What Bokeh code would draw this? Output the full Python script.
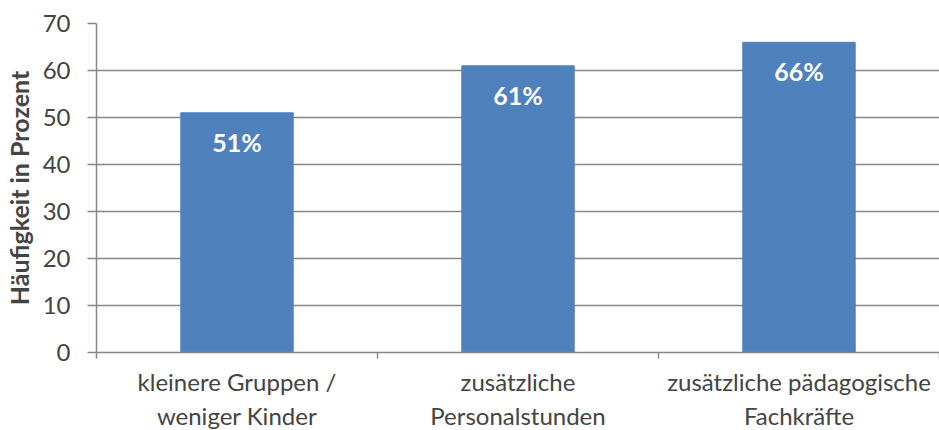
from bokeh.plotting import figure
from bokeh.models import Range1d, FixedTicker, ColumnDataSource
from bokeh.core.properties import value
from bokeh.embed import file_html
from bokeh.resources import INLINE

categories = ["kleinere Gruppen /\nweniger Kinder",
              "zusätzliche\nPersonalstunden",
              "zusätzliche pädagogische\nFachkräfte"]
values = [51, 61, 66]
y_ticks = [0, 10, 20, 30, 40, 50, 60, 70]
y_title = "Häufigkeit in Prozent"

positions = [i + 0.5 for i in range(len(categories))]
labels = [f"{v}%" for v in values]
src = ColumnDataSource(dict(x=positions, top=values, lab=labels))

FONT = "Lato"
GRAY = "#888888"

p = figure(frame_width=843, frame_height=329, output_backend="svg", toolbar_location=None,
           x_range=Range1d(0, len(categories)), y_range=Range1d(0, 70),
           min_border_left=92, min_border_right=0, min_border_top=23, min_border_bottom=10)
p.outline_line_color = None
p.background_fill_color = "white"
p.border_fill_color = "white"

p.vbar(x="x", top="top", width=0.4, bottom=0, source=src, fill_color="#4F81BD",
       line_color="#4F81BD")
p.text(x="x", y="top", text="lab", source=src, y_offset=29, text_align="center",
       text_baseline="middle", text_color="white", text_font=value(FONT),
       text_font_style="bold", text_font_size="25px")

# y axis
ya = p.yaxis[0]
ya.ticker = FixedTicker(ticks=y_ticks)
ya.axis_label = y_title
ya.axis_label_text_font = FONT
ya.axis_label_text_font_style = "bold"
ya.axis_label_text_font_size = "25px"
ya.axis_label_standoff = 6
ya.major_label_text_font = FONT
ya.major_label_text_font_size = "24px"
ya.major_label_standoff = 17
ya.major_tick_in = 0
ya.major_tick_out = 9
ya.minor_tick_line_color = None
ya.axis_line_color = GRAY
ya.axis_line_width = 1.5
ya.major_tick_line_color = GRAY
ya.major_tick_line_width = 1.5

# x axis
xa = p.xaxis[0]
xa.ticker = FixedTicker(ticks=positions, minor_ticks=list(range(len(categories) + 1)))
xa.major_label_overrides = {pos: c for pos, c in zip(positions, categories)}
xa.major_label_text_font = FONT
xa.major_label_text_font_size = "24px"
xa.major_label_standoff = 8
xa.major_tick_line_color = None
xa.minor_tick_line_color = GRAY
xa.minor_tick_line_width = 1.5
xa.minor_tick_in = 0
xa.minor_tick_out = 6
xa.axis_line_color = GRAY
xa.axis_line_width = 1.5

p.xgrid.grid_line_color = None
p.ygrid.grid_line_color = GRAY
p.ygrid.grid_line_width = 1.5

open("out.html", "w").write(file_html(p, INLINE))
